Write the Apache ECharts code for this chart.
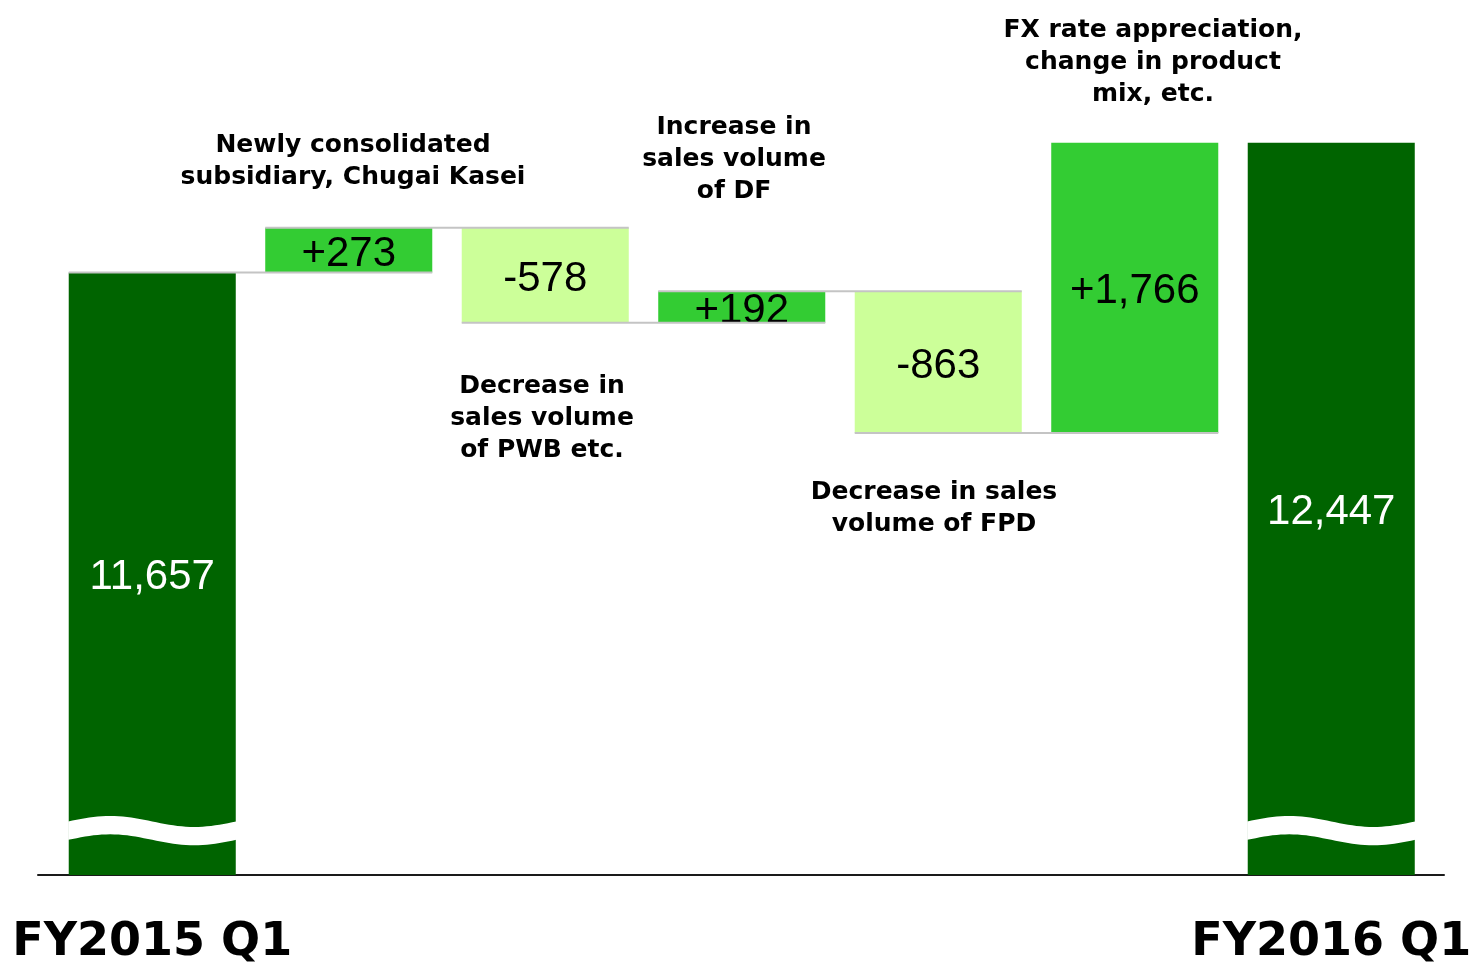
<!DOCTYPE html>
<html><head><meta charset="utf-8">
<script src="https://cdn.jsdelivr.net/npm/echarts@6/dist/echarts.min.js"></script>
<style>html,body{margin:0;padding:0;background:#fff}#c{width:1472px;height:963px}</style>
</head><body><div id="c"></div>
<script>
// ---- data ----
const categories = ['FY2015 Q1', 'Chugai Kasei', 'PWB etc.', 'DF', 'FPD', 'FX rate / product mix', 'FY2016 Q1'];
const startValue = 11657;
const endValue = 12447;
const deltas = [273, -578, 192, -863, 1766];
const valueLabels = ['11,657', '+273', '-578', '+192', '-863', '+1,766', '12,447'];
const annotationTexts = [
  'Newly consolidated\nsubsidiary, Chugai Kasei',
  'Increase in\nsales volume\nof DF',
  'Decrease in\nsales volume\nof PWB etc.',
  'Decrease in sales\nvolume of FPD',
  'FX rate appreciation,\nchange in product\nmix, etc.'
];
const axisBreakValue = 8260; // where the broken-axis wave sits

// ---- build waterfall ----
const AXIS_MIN = 7990, AXIS_MAX = 13000;
const C_TOTAL = '#006400', C_UP = '#33cc33', C_DOWN = '#ccff99';
const helper = [], heights = [], colors = [], levels = [];
helper.push(AXIS_MIN); heights.push(startValue - AXIS_MIN); colors.push(C_TOTAL);
let run = startValue; levels.push(run);
deltas.forEach(d => {
  const next = run + d;
  helper.push(Math.min(run, next));
  heights.push(Math.abs(d));
  colors.push(d >= 0 ? C_UP : C_DOWN);
  run = next; levels.push(run);
});
helper.push(AXIS_MIN); heights.push(endValue - AXIS_MIN); colors.push(C_TOTAL);

const BAR_FRAC = 0.85;
const chart = echarts.init(document.getElementById('c'), null, {renderer: 'canvas'});

const annPos = [[353, 129], [734, 111], [542, 370], [934, 476], [1153, 14]];

chart.setOption({
  animation: false,
  backgroundColor: '#fff',
  grid: [
    {left: 54, right: 42.5, top: 52, bottom: 88, containLabel: false, outerBoundsMode: 'none'},
    {left: 38, right: 28, top: 52, bottom: 88, containLabel: false, outerBoundsMode: 'none'}
  ],
  xAxis: [
    {
      type: 'category', gridIndex: 0, data: categories,
      axisLine: {show: false}, axisTick: {show: false},
      axisLabel: {
        interval: 0, margin: 45,
        fontSize: 46, fontWeight: 'bold', fontFamily: 'DejaVu Sans', color: '#000',
        formatter: (v, i) => (i === 0 || i === categories.length - 1) ? v : ''
      }
    },
    {
      type: 'value', gridIndex: 1,
      axisLine: {show: true, onZero: false, lineStyle: {color: '#1a1a1a', width: 2}},
      axisTick: {show: false}, axisLabel: {show: false}, splitLine: {show: false}
    }
  ],
  yAxis: [
    {type: 'value', gridIndex: 0, min: AXIS_MIN, max: AXIS_MAX, show: false, splitLine: {show: false}},
    {type: 'value', gridIndex: 1, show: false, splitLine: {show: false}}
  ],
  series: [
    {
      type: 'bar', stack: 'wf', barWidth: (BAR_FRAC * 100) + '%', silent: true,
      itemStyle: {color: 'rgba(0,0,0,0)'}, data: helper, z: 2
    },
    {
      type: 'bar', stack: 'wf', barWidth: (BAR_FRAC * 100) + '%', z: 3,
      data: heights.map((h, i) => ({
        value: h,
        itemStyle: {color: colors[i]},
        label: {color: colors[i] === C_TOTAL ? '#fff' : '#000'}
      })),
      label: {
        show: true, position: 'inside', offset: [0, 4], fontSize: 42, fontFamily: 'Liberation Sans',
        formatter: p => valueLabels[p.dataIndex]
      }
    },
    {
      type: 'custom', z: 5, silent: true,
      data: levels.slice(0, levels.length - 1).map((l, i) => [i, l]),
      renderItem: (params, api) => {
        const i = api.value(0), lv = api.value(1);
        const p0 = api.coord([i, lv]), p1 = api.coord([i + 1, lv]);
        const bw = api.size([1, 0])[0] * BAR_FRAC;
        return {
          type: 'line',
          shape: {x1: p0[0] - bw / 2, y1: p0[1], x2: p1[0] + bw / 2, y2: p1[1]},
          style: {stroke: '#c4c4c4', lineWidth: 2}
        };
      }
    },
    {
      type: 'custom', z: 6, silent: true,
      data: [[0, axisBreakValue], [categories.length - 1, axisBreakValue]],
      renderItem: (params, api) => {
        const c = api.coord([api.value(0), api.value(1)]);
        const bw = api.size([1, 0])[0] * BAR_FRAC;
        const half = bw * 0.055, amp = bw * 0.033;
        const x0 = c[0] - bw / 2 - 0.5, w = bw + 1;
        const pts = [];
        const N = 40;
        for (let k = 0; k <= N; k++) {
          const t = k / N;
          pts.push([x0 + w * t, c[1] - amp * Math.sin(2 * Math.PI * t) - half]);
        }
        for (let k = N; k >= 0; k--) {
          const t = k / N;
          pts.push([x0 + w * t, c[1] - amp * Math.sin(2 * Math.PI * t) + half]);
        }
        return {type: 'polygon', shape: {points: pts}, style: {fill: '#fff'}};
      }
    }
  ],
  graphic: annotationTexts.map((t, i) => ({
    type: 'text', x: annPos[i][0], y: annPos[i][1], z: 10,
    style: {
      text: t, align: 'center', verticalAlign: 'top',
      fontSize: 25, fontWeight: 'bold', fontFamily: 'DejaVu Sans',
      lineHeight: 32, fill: '#000'
    }
  }))
});
</script>
</body></html>
